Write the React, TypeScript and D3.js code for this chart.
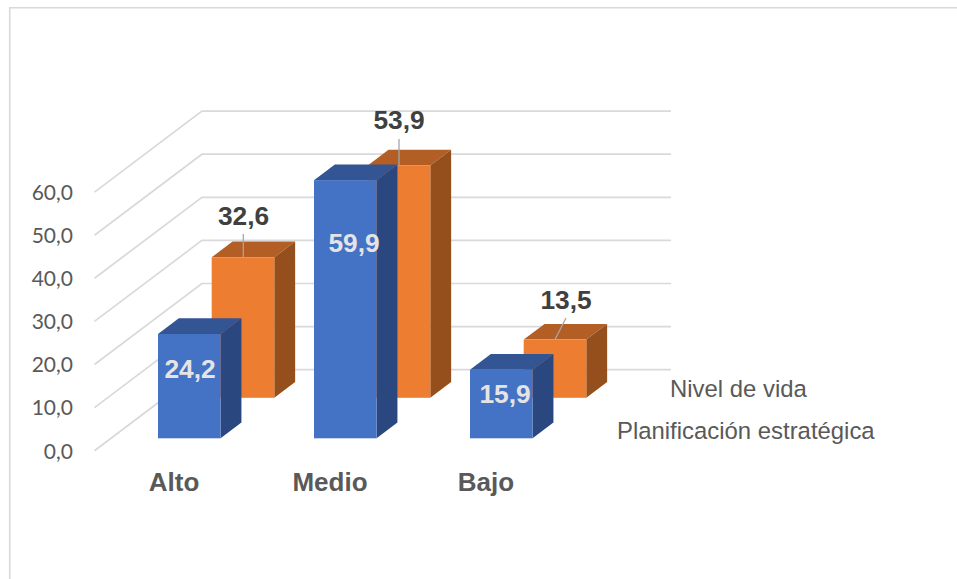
import React from "react";
import * as d3 from "d3";

const categories = ["Alto", "Medio", "Bajo"];
const seriesNames = ["Planificación estratégica", "Nivel de vida"];
const planificacion = [24.2, 59.9, 15.9];
const nivelDeVida = [32.6, 53.9, 13.5];
const valueTicks = [0, 10, 20, 30, 40, 50, 60];
const tickLabels = ["0,0", "10,0", "20,0", "30,0", "40,0", "50,0", "60,0"];

const W = 957;
const H = 579;
const font = "'Liberation Sans', Arial, sans-serif";

const fmt = (v: number) => v.toFixed(1).replace(".", ",");

// front-plane scales
const y = d3.scaleLinear().domain([0, 60]).range([438.3, 179.7]);
const x = d3.scalePoint<string>().domain(categories).range([189.3, 501.3]);
const barW = 62.6;
// depth projection: 0 = front plane, 1 = back wall
const depthX = d3.scaleLinear().domain([0, 1]).range([0, 107.4]);
const depthY = d3.scaleLinear().domain([0, 1]).range([0, -81]);
const boxDepth = 0.194; // share of floor depth taken by a bar
const orangeDepth = 0.5;
const gridFront = { x: 94.5, y: 12.4 };
const gridRight = 671;

const shades = {
  blue: { front: "#4472c4", top: "#335593", side: "#2a4780" },
  orange: { front: "#ed7d31", top: "#b25e25", side: "#954f1c" },
};

type Shade = { front: string; top: string; side: string };

function Box({ cat, value, d, c }: { cat: string; value: number; d: number; c: Shade }) {
  const ox = depthX(d);
  const oy = depthY(d);
  const x0 = x(cat)! - barW / 2 + ox;
  const x1 = x0 + barW;
  const yb = y(0) + oy;
  const yt = y(value) + oy;
  const dx = depthX(boxDepth);
  const dy = depthY(boxDepth);
  const pts = (p: number[][]) => p.map((q) => q.join(",")).join(" ");
  return (
    <g>
      <polygon fill={c.top} points={pts([[x0, yt], [x1, yt], [x1 + dx, yt + dy], [x0 + dx, yt + dy]])} />
      <polygon fill={c.side} points={pts([[x1, yt], [x1 + dx, yt + dy], [x1 + dx, yb + dy], [x1, yb]])} />
      <rect x={x0} y={yt} width={barW} height={yb - yt} fill={c.front} />
    </g>
  );
}

const orangeLabelOffsets = [
  { lx: 243.5, ly: 224.5, x1: 243.3, y1: 258, x2: 243.3, y2: 234 },
  { lx: 399, ly: 129, x1: 399, y1: 165, x2: 399, y2: 139 },
  { lx: 566, ly: 309, x1: 555, y1: 339.5, x2: 566, y2: 318 },
];
const blueLabelX = [190, 354, 505];
const blueLabelBaselines = [378, 252, 403];
const categoryLabelX = [174, 330, 486];

export default function App() {
  const gx0 = gridFront.x;
  const gx1 = gx0 + depthX(1);
  return (
    <svg
      width={W}
      height={H}
      viewBox={`0 0 ${W} ${H}`}
      style={{ position: "absolute", left: 0, top: 0, display: "block", background: "#fff" }}
      fontFamily={font}
    >
      <path d={`M9.75,${H} V7.75 H${W}`} fill="none" stroke="#d9d9d9" strokeWidth={1.6} />

      {valueTicks.map((t, i) => {
        const yf = y(t) + gridFront.y;
        const yb = yf + depthY(1);
        return (
          <g key={t}>
            <polyline
              points={`${gx0},${yf} ${gx1},${yb} ${gridRight},${yb}`}
              fill="none"
              stroke="#d9d9d9"
              strokeWidth={1.7}
            />
            <text x={73} y={yf + 7.8} textAnchor="end" fontSize={21} fontFamily="Lato, 'Open Sans', sans-serif" fill="#595959">
              {tickLabels[i]}
            </text>
          </g>
        );
      })}

      {categories.map((c, i) => (
        <Box key={c} cat={c} value={nivelDeVida[i]} d={orangeDepth} c={shades.orange} />
      ))}
      {categories.map((c, i) => (
        <Box key={c} cat={c} value={planificacion[i]} d={0} c={shades.blue} />
      ))}

      {nivelDeVida.map((v, i) => {
        const o = orangeLabelOffsets[i];
        return (
          <g key={categories[i]}>
            <line x1={o.x1} y1={o.y1} x2={o.x2} y2={o.y2} stroke="#a6a6a6" strokeWidth={1.3} />
            <text x={o.lx} y={o.ly} textAnchor="middle" fontSize={26.3} fontWeight="bold" fill="#404040">
              {fmt(v)}
            </text>
          </g>
        );
      })}
      {planificacion.map((v, i) => (
        <text
          key={categories[i]}
          x={blueLabelX[i]}
          y={blueLabelBaselines[i]}
          textAnchor="middle"
          fontSize={26.3}
          fontWeight="bold"
          fill="#e4e4e4"
        >
          {fmt(v)}
        </text>
      ))}

      {categories.map((c, i) => (
        <text key={c} x={categoryLabelX[i]} y={491} textAnchor="middle" fontSize={26} fontWeight="bold" fill="#595959">
          {c}
        </text>
      ))}

      <text x={670} y={397} fontSize={23.9} fill="#595959">{seriesNames[1]}</text>
      <text x={617} y={438.5} fontSize={23.9} fill="#595959">{seriesNames[0]}</text>
    </svg>
  );
}
